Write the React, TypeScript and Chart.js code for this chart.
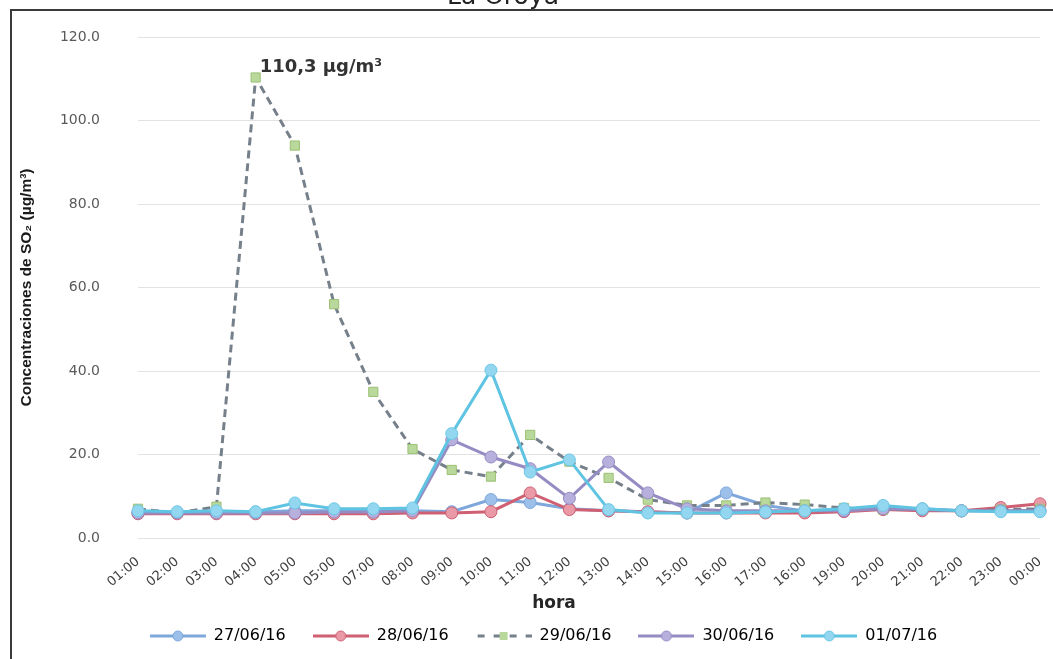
import React, { useEffect, useRef } from "react";
import { Chart, registerables } from "chart.js";

Chart.register(...registerables);

const hours = [
  "01:00", "02:00", "03:00", "04:00", "05:00", "05:00", "07:00", "08:00",
  "09:00", "10:00", "11:00", "12:00", "13:00", "14:00", "15:00", "16:00",
  "17:00", "16:00", "19:00", "20:00", "21:00", "22:00", "23:00", "00:00",
];

const seriesLabels = ["27/06/16", "28/06/16", "29/06/16", "30/06/16", "01/07/16"];

const d270616 = [6.2, 6.0, 6.0, 6.2, 6.5, 6.5, 6.5, 6.5, 6.3, 9.2, 8.5, 7.0, 6.5, 6.2, 6.0, 10.8, 7.8, 6.5, 6.8, 7.3, 7.0, 6.5, 6.5, 6.5];
const d280616 = [5.8, 5.8, 5.8, 5.8, 5.8, 5.8, 5.8, 6.0, 6.0, 6.3, 10.8, 6.8, 6.5, 6.3, 6.0, 6.0, 6.0, 6.0, 6.3, 6.8, 6.5, 6.5, 7.3, 8.2];
const d290616 = [7.0, 6.0, 7.5, 110.3, 94.0, 56.0, 35.0, 21.3, 16.3, 14.7, 24.7, 18.3, 14.4, 9.2, 7.8, 7.8, 8.5, 8.0, 7.2, 6.8, 6.8, 6.5, 6.8, 7.0];
const d300616 = [6.0, 6.0, 6.0, 6.0, 6.0, 6.2, 6.2, 6.5, 23.5, 19.4, 16.6, 9.5, 18.2, 10.8, 7.0, 6.5, 6.5, 6.5, 6.5, 7.0, 6.8, 6.5, 6.5, 6.5];
const d010716 = [6.5, 6.3, 6.5, 6.3, 8.4, 7.0, 7.0, 7.2, 25.0, 40.2, 15.8, 18.7, 6.8, 6.0, 6.0, 6.0, 6.2, 6.5, 7.0, 7.8, 7.0, 6.5, 6.3, 6.3];

const peakLabel = "110,3 µg/m³";
const yTitle = "Concentraciones de SO₂ (µg/m³)";
const xTitle = "hora";
const chartTitle = "La Oroya";

type Style = {
  line: string;
  fill: string;
  border: string;
  dash: number[];
  point: string;
  radius: number;
  order: number;
};

const styles: Style[] = [
  { line: "#7ea7dc", fill: "#9cc0ea", border: "#7ea7dc", dash: [], point: "circle", radius: 6, order: 4 },
  { line: "#cf5f72", fill: "#e99aa6", border: "#cf5f72", dash: [], point: "circle", radius: 6, order: 3 },
  { line: "#76808b", fill: "#b9d99c", border: "#9cc074", dash: [8, 5], point: "rect", radius: 6.5, order: 2 },
  { line: "#958cc4", fill: "#b8b0dc", border: "#958cc4", dash: [], point: "circle", radius: 6, order: 1 },
  { line: "#5ec4e2", fill: "#92d6f0", border: "#6cc8e6", dash: [], point: "circle", radius: 6, order: 0 },
];

const seriesData = [d270616, d280616, d290616, d300616, d010716];

function legendIcon(s: Style): HTMLCanvasElement {
  const c = document.createElement("canvas");
  c.width = 56;
  c.height = 14;
  const ctx = c.getContext("2d")!;
  ctx.strokeStyle = s.line;
  ctx.lineWidth = 3;
  ctx.setLineDash(s.dash.length ? [7, 9] : []);
  ctx.beginPath();
  ctx.moveTo(s.dash.length ? 2 : 0, 7);
  ctx.lineTo(56, 7);
  ctx.stroke();
  ctx.setLineDash([]);
  ctx.fillStyle = s.fill;
  ctx.strokeStyle = s.border;
  ctx.lineWidth = 1;
  if (s.point === "rect") {
    ctx.fillRect(24, 3, 8, 8);
  } else {
    ctx.beginPath();
    ctx.arc(28, 7, 5, 0, Math.PI * 2);
    ctx.fill();
    ctx.stroke();
  }
  return c;
}

const decor = {
  id: "decor",
  beforeDraw(chart: any) {
    const ctx = chart.ctx;
    ctx.save();
    ctx.fillStyle = "#ffffff";
    ctx.fillRect(0, 0, chart.width, chart.height);
    ctx.restore();
  },
  afterDraw(chart: any) {
    const ctx = chart.ctx;
    ctx.save();
    // frame
    ctx.fillStyle = "#3a3a3a";
    ctx.fillRect(10, 9, chart.width, 2);
    ctx.fillRect(10, 9, 2, chart.height);
    // chart title (clipped at top)
    ctx.fillStyle = "#222222";
    ctx.font = '25px "DejaVu Sans"';
    ctx.textAlign = "center";
    ctx.textBaseline = "alphabetic";
    ctx.fillText(chartTitle, 503, 4);
    // x axis title
    ctx.font = 'bold 17px "DejaVu Sans"';
    ctx.fillStyle = "#262626";
    ctx.textBaseline = "middle";
    ctx.fillText(xTitle, 554, 604);
    // peak annotation
    const pt = chart.getDatasetMeta(2).data[3];
    if (pt) {
      ctx.textAlign = "left";
      ctx.textBaseline = "alphabetic";
      ctx.font = 'bold 18px "DejaVu Sans"';
      ctx.fillStyle = "#333333";
      ctx.fillText(peakLabel, pt.x + 4, pt.y - 5);
    }
    ctx.restore();
  },
};

export default function App() {
  const ref = useRef<HTMLCanvasElement>(null);

  useEffect(() => {
    const canvas = ref.current!;
    const icons = styles.map(legendIcon);
    const chart = new Chart(canvas, {
      type: "line",
      data: {
        labels: hours,
        datasets: seriesData.map((d, i) => ({
          label: seriesLabels[i],
          data: d,
          borderColor: styles[i].line,
          backgroundColor: styles[i].fill,
          borderWidth: 3,
          borderDash: styles[i].dash,
          pointStyle: styles[i].point as any,
          pointRadius: styles[i].radius,
          pointBackgroundColor: styles[i].fill,
          pointBorderColor: styles[i].border,
          pointBorderWidth: 1,
          tension: 0,
          order: styles[i].order,
          yAxisID: "y",
        })),
      },
      options: {
        responsive: false,
        animation: false,
        layout: { padding: { left: 0, right: 0, top: 37, bottom: 5 } },
        plugins: {
          tooltip: { enabled: false },
          legend: {
            position: "bottom",
            labels: {
              usePointStyle: true,
              pointStyleWidth: 56,
              padding: 27,
              color: "#404040",
              font: { family: "DejaVu Sans", size: 16 },
              generateLabels: () =>
                seriesLabels.map((t, i) => ({
                  text: t,
                  pointStyle: icons[i] as any,
                  fillStyle: styles[i].fill,
                  strokeStyle: styles[i].line,
                  lineWidth: 0,
                  hidden: false,
                  datasetIndex: i,
                })),
            },
          },
        },
        scales: {
          x: {
            type: "category",
            offset: false,
            grid: { display: false },
            border: { display: false },
            ticks: {
              autoSkip: false,
              maxRotation: 40,
              minRotation: 40,
              padding: 8,
              color: "#404040",
              font: { family: "DejaVu Sans", size: 13 },
            },
            afterFit: (s: any) => {
              s.height = 63;
            },
          },
          y: {
            type: "linear",
            position: "left",
            min: 0,
            max: 120,
            ticks: {
              stepSize: 20,
              padding: 2,
              color: "#595959",
              font: { family: "DejaVu Sans", size: 14 },
              callback: (v: any) => Number(v).toFixed(1),
            },
            grid: {
              color: "#e2e2e2",
              lineWidth: 1,
              drawTicks: true,
              tickLength: 36,
              tickColor: "rgba(0,0,0,0)",
            },
            border: { display: false },
            title: {
              display: true,
              text: yTitle,
              color: "#1a1a1a",
              font: { family: "Liberation Sans", weight: "bold", size: 15.5 },
              padding: { top: 17, bottom: 0 },
            },
            afterFit: (s: any) => {
              s.width = 138;
            },
          },
          y2: {
            type: "linear",
            position: "right",
            display: true,
            grid: { display: false },
            border: { display: false },
            ticks: { display: false },
            afterFit: (s: any) => {
              s.width = 47;
            },
          },
        },
      },
      plugins: [decor],
    });
    return () => chart.destroy();
  }, []);

  return (
    <div
      style={{
        position: "absolute",
        left: 0,
        top: 0,
        width: 1053,
        height: 659,
        overflow: "hidden",
        background: "#ffffff",
      }}
    >
      <canvas ref={ref} width={1087} height={659} style={{ display: "block", width: 1087, height: 659 }} />
    </div>
  );
}
